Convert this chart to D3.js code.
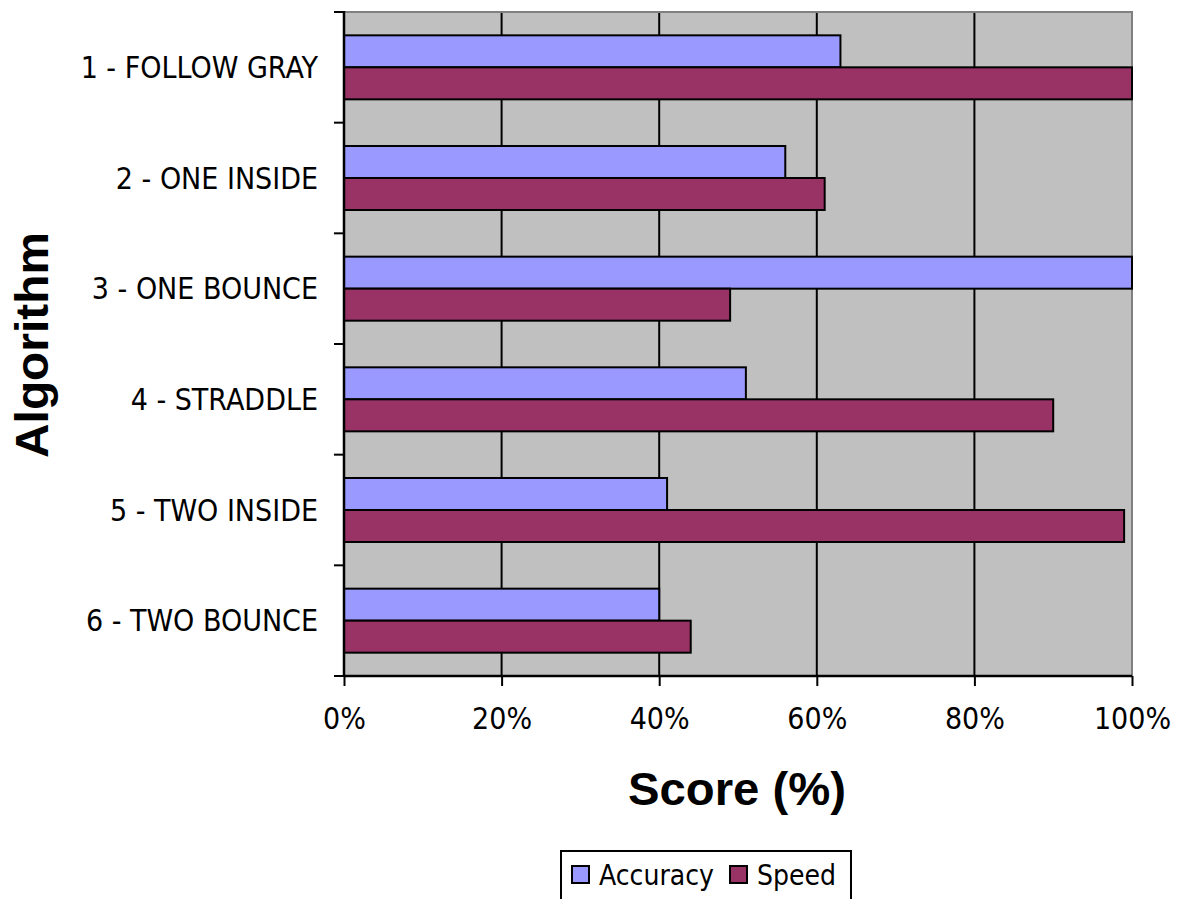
<!DOCTYPE html>
<html lang="en">
<head>
  <meta charset="UTF-8">
  <title>Algorithm scores</title>
  <style>
    body { margin: 0; background: #fff; }
    .lbl { font-family: 'DejaVu Sans Condensed', 'DejaVu Sans', sans-serif; font-size: 30px; fill: #000; }
    .leg { font-size: 28px; }
    .title { font-family: 'Liberation Sans', Arial, sans-serif; font-weight: bold; font-size: 46px; fill: #000; }
  </style>
</head>
<body>
  <script src="https://d3js.org/d3.v7.min.js"></script>
  <script>
    var categories = ['1 - FOLLOW GRAY', '2 - ONE INSIDE', '3 - ONE BOUNCE', '4 - STRADDLE', '5 - TWO INSIDE', '6 - TWO BOUNCE'];
    var seriesNames = ['Accuracy', 'Speed'];
    var accuracy = [63, 56, 100, 51, 41, 40];
    var speed = [100, 61, 49, 90, 99, 44];
    var xTicks = [0, 20, 40, 60, 80, 100];
    var colors = ['#9999ff', '#993366'];

    var width = 1177, height = 899;
    var plotL = 344, plotR = 1132, plotT = 12, plotB = 676;

    var svg = d3.select('body').append('svg')
      .attr('width', width)
      .attr('height', height);

    var x = d3.scaleLinear().domain([0, 100]).range([plotL, plotR]);
    var y = d3.scaleBand().domain(categories).range([plotT, plotB]);
    var ySub = d3.scaleBand().domain(seriesNames).range([0, y.bandwidth()]).paddingOuter(0.729);

    // plot background
    svg.append('rect')
      .attr('x', plotL).attr('y', plotT)
      .attr('width', plotR - plotL).attr('height', plotB - plotT)
      .attr('fill', '#c0c0c0');

    // gridlines
    svg.selectAll('.grid')
      .data(xTicks.filter(function(d) { return d > 0 && d < 100; }))
      .enter().append('line')
      .attr('x1', function(d) { return x(d); })
      .attr('x2', function(d) { return x(d); })
      .attr('y1', plotT).attr('y2', plotB)
      .attr('stroke', '#000').attr('stroke-width', 2);

    // gray frame top/right
    svg.append('path')
      .attr('d', 'M' + plotL + ',' + plotT + 'H' + plotR + 'V' + plotB)
      .attr('fill', 'none').attr('stroke', '#808080').attr('stroke-width', 2);

    var rows = categories.map(function(c, i) {
      return { cat: c, values: [accuracy[i], speed[i]] };
    });

    var groups = svg.selectAll('.row')
      .data(rows)
      .enter().append('g')
      .attr('transform', function(d) { return 'translate(0,' + y(d.cat) + ')'; });

    groups.selectAll('rect')
      .data(function(d) { return d.values.map(function(v, j) { return { name: seriesNames[j], v: v, j: j }; }); })
      .enter().append('rect')
      .attr('x', x(0))
      .attr('y', function(d) { return ySub(d.name); })
      .attr('width', function(d) { return x(d.v) - x(0); })
      .attr('height', ySub.bandwidth())
      .attr('fill', function(d) { return colors[d.j]; })
      .attr('stroke', '#000')
      .attr('stroke-width', 2);

    // x axis
    var xAxis = svg.append('g')
      .attr('transform', 'translate(0,' + plotB + ')')
      .call(d3.axisBottom(x).tickValues(xTicks).tickSize(10).tickPadding(22)
        .tickFormat(function(d) { return d + '%'; }));
    xAxis.select('.domain').attr('stroke', '#000').attr('stroke-width', 2.5)
      .attr('d', 'M' + plotL + ',0H' + plotR);
    xAxis.selectAll('.tick line').attr('stroke', '#000').attr('stroke-width', 2);
    xAxis.selectAll('.tick text').attr('class', 'lbl').attr('font-family', null).attr('font-size', null);
    xAxis.attr('font-family', null).attr('font-size', null);

    // y axis: ticks on category boundaries
    svg.append('line')
      .attr('x1', plotL).attr('x2', plotL).attr('y1', plotT - 1).attr('y2', plotB)
      .attr('stroke', '#000').attr('stroke-width', 2.5);
    var bounds = categories.map(function(c) { return y(c); }).concat([plotB]);
    svg.selectAll('.ytick')
      .data(bounds)
      .enter().append('line')
      .attr('x1', plotL - 10).attr('x2', plotL)
      .attr('y1', function(d) { return d; }).attr('y2', function(d) { return d; })
      .attr('stroke', '#000').attr('stroke-width', 2);

    svg.selectAll('.ylabel')
      .data(categories)
      .enter().append('text')
      .attr('class', 'lbl')
      .attr('x', 318)
      .attr('y', function(d) { return y(d) + y.bandwidth() / 2; })
      .attr('dy', '0.36em')
      .attr('text-anchor', 'end')
      .text(function(d) { return d; });

    // axis titles
    svg.append('text')
      .attr('class', 'title')
      .attr('x', 737).attr('y', 805)
      .attr('text-anchor', 'middle')
      .attr('textLength', 218).attr('lengthAdjust', 'spacingAndGlyphs')
      .text('Score (%)');

    svg.append('text')
      .attr('class', 'title')
      .attr('transform', 'translate(48,345) rotate(-90)')
      .attr('text-anchor', 'middle')
      .attr('textLength', 226).attr('lengthAdjust', 'spacingAndGlyphs')
      .text('Algorithm');

    // legend
    var legend = svg.append('g');
    legend.append('rect')
      .attr('x', 561).attr('y', 851)
      .attr('width', 290).attr('height', 60)
      .attr('fill', '#fff').attr('stroke', '#000').attr('stroke-width', 2);
    var legendX = [572, 730];
    var item = legend.selectAll('.item')
      .data(seriesNames)
      .enter().append('g')
      .attr('transform', function(d, i) { return 'translate(' + legendX[i] + ',866)'; });
    item.append('rect')
      .attr('width', 17).attr('height', 17)
      .attr('fill', function(d, i) { return colors[i]; })
      .attr('stroke', '#000').attr('stroke-width', 2);
    item.append('text')
      .attr('class', 'lbl leg')
      .attr('x', 27).attr('y', 19)
      .text(function(d) { return d; });
  </script>
</body>
</html>
